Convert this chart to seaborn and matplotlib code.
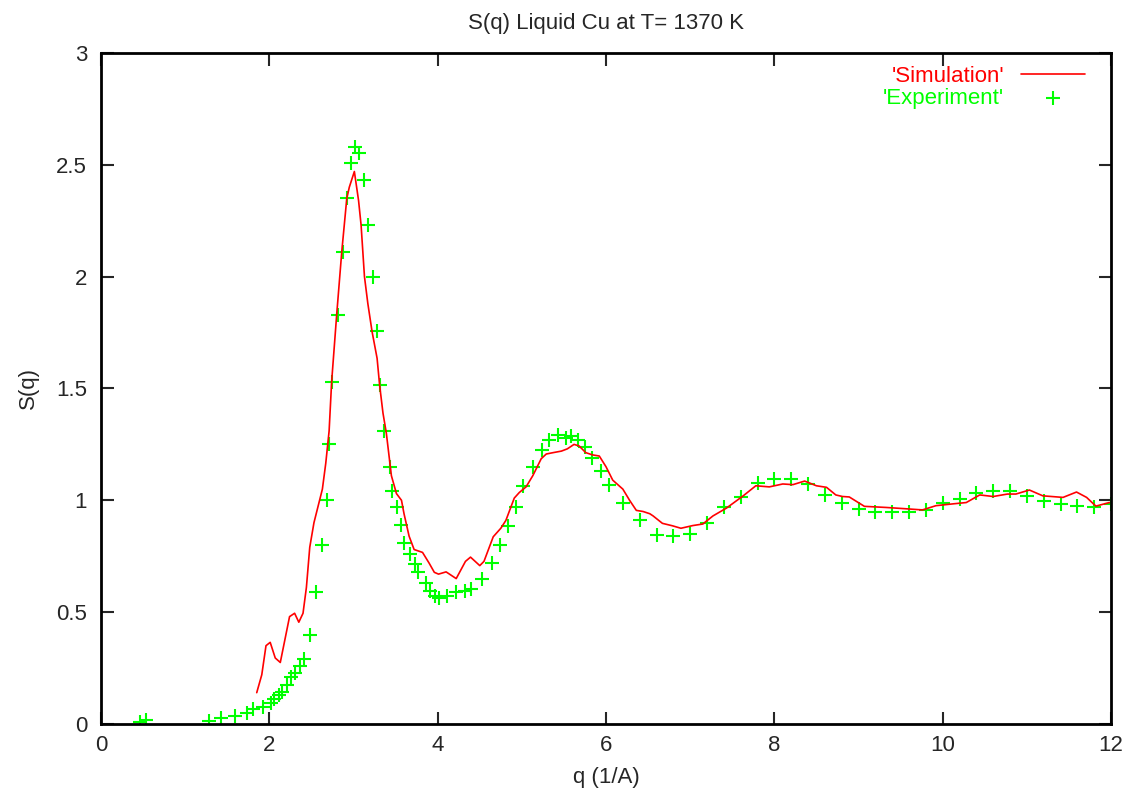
import matplotlib
matplotlib.use("Agg")
import matplotlib.pyplot as plt
import numpy as np
import pandas as pd
import seaborn as sns

# simulated S(q)
sim_q = [1.85, 1.91, 1.96, 2.01, 2.07, 2.13, 2.24, 2.30, 2.35, 2.40, 2.44, 2.48,
         2.53, 2.59, 2.63, 2.67, 2.71, 2.74, 2.80, 2.86, 2.92, 2.95, 3.01, 3.06,
         3.09, 3.13, 3.17, 3.22, 3.28, 3.31, 3.35, 3.39, 3.45, 3.51, 3.57, 3.60,
         3.66, 3.72, 3.82, 3.90, 3.96, 4.01, 4.10, 4.22, 4.33, 4.39, 4.50, 4.55,
         4.66, 4.75, 4.81, 4.91, 4.97, 5.05, 5.13, 5.23, 5.29, 5.37, 5.47, 5.54,
         5.62, 5.68, 5.76, 5.84, 5.92, 6.00, 6.08, 6.20, 6.28, 6.36, 6.44, 6.52,
         6.56, 6.67, 6.79, 6.89, 7.03, 7.15, 7.27, 7.43, 7.63, 7.78, 7.94, 8.10,
         8.22, 8.36, 8.50, 8.62, 8.73, 8.81, 8.89, 9.07, 9.33, 9.57, 9.76, 9.92,
         10.12, 10.28, 10.44, 10.60, 10.77, 10.87, 11.03, 11.19, 11.43, 11.59,
         11.71, 11.82, 11.98]
sim_s = [0.14, 0.22, 0.35, 0.365, 0.295, 0.275, 0.48, 0.495, 0.455, 0.495, 0.61, 0.79,
         0.90, 0.99, 1.05, 1.165, 1.31, 1.53, 1.83, 2.11, 2.35, 2.40, 2.47, 2.34,
         2.23, 2.00, 1.88, 1.755, 1.635, 1.515, 1.39, 1.30, 1.11, 1.03, 1.00, 0.94,
         0.84, 0.78, 0.767, 0.718, 0.678, 0.67, 0.68, 0.65, 0.727, 0.746, 0.708, 0.727,
         0.837, 0.875, 0.91, 1.01, 1.035, 1.06, 1.11, 1.186, 1.207, 1.213, 1.22, 1.23,
         1.25, 1.243, 1.213, 1.203, 1.198, 1.15, 1.09, 1.05, 1.00, 0.955, 0.95, 0.94,
         0.93, 0.897, 0.886, 0.875, 0.887, 0.894, 0.93, 0.965, 1.02, 1.065, 1.06, 1.073,
         1.07, 1.086, 1.065, 1.058, 1.024, 1.017, 1.015, 0.973, 0.968, 0.962, 0.957, 0.976,
         0.984, 0.99, 1.024, 1.017, 1.028, 1.028, 1.046, 1.02, 1.013, 1.037,
         1.013, 0.974, 0.99]

# experimental S(q)
exp_q = [0.46, 0.54, 1.28, 1.42, 1.59, 1.74, 1.80, 1.92, 2.02, 2.05, 2.11, 2.15,
         2.21, 2.26, 2.30, 2.37, 2.41, 2.48, 2.56, 2.62, 2.68, 2.71, 2.75, 2.82,
         2.87, 2.92, 2.97, 3.02, 3.07, 3.13, 3.17, 3.23, 3.28, 3.31, 3.36, 3.43,
         3.46, 3.52, 3.56, 3.60, 3.67, 3.73, 3.77, 3.86, 3.91, 3.97, 4.02, 4.11,
         4.22, 4.32, 4.39, 4.53, 4.64, 4.74, 4.84, 4.93, 5.01, 5.13, 5.24, 5.32,
         5.43, 5.53, 5.58, 5.67, 5.75, 5.83, 5.94, 6.03, 6.2, 6.4, 6.6, 6.8,
         7.0, 7.2, 7.4, 7.6, 7.8, 8.0, 8.2, 8.4, 8.6, 8.8, 9.0, 9.2, 9.4, 9.6,
         9.8, 10.0, 10.2, 10.4, 10.6, 10.8, 11.0, 11.2, 11.4, 11.6, 11.8, 12.0]
exp_s = [0.01, 0.02, 0.015, 0.027, 0.036, 0.05, 0.065, 0.075, 0.092, 0.11, 0.13, 0.145,
         0.175, 0.21, 0.23, 0.26, 0.29, 0.40, 0.59, 0.80, 1.00, 1.25, 1.53, 1.83,
         2.11, 2.35, 2.51, 2.58, 2.555, 2.43, 2.23, 2.00, 1.755, 1.515, 1.31, 1.15,
         1.04, 0.97, 0.89, 0.81, 0.76, 0.715, 0.68, 0.63, 0.596, 0.57, 0.565, 0.574,
         0.59, 0.596, 0.605, 0.647, 0.718, 0.80, 0.886, 0.97, 1.064, 1.15, 1.225, 1.27,
         1.29, 1.28, 1.287, 1.27, 1.24, 1.19, 1.13, 1.068, 0.987, 0.91, 0.845, 0.84,
         0.85, 0.897, 0.969, 1.016, 1.079, 1.097, 1.097, 1.073, 1.024, 0.99, 0.961, 0.949, 0.949, 0.949,
         0.957, 0.987, 1.004, 1.031, 1.042, 1.042, 1.02, 0.998, 0.983, 0.975, 0.972, 0.985]

sim = pd.DataFrame({"q": sim_q, "S": sim_s})
exp = pd.DataFrame({"q": exp_q, "S": exp_s})

sns.set_style("ticks")
plt.rcParams["font.family"] = ["Liberation Sans", "DejaVu Sans"]
FS = 16

fig = plt.figure(figsize=(11.3, 7.99), dpi=100)
ax = fig.add_axes([0.0894, 0.0939, 0.8938, 0.8398])

sns.lineplot(data=sim, x="q", y="S", ax=ax, color="#ff0000", lw=1.2,
             sort=False, estimator=None, label="'Simulation'")
sns.scatterplot(data=exp, x="q", y="S", ax=ax, color="#00ff00", marker="+",
                s=90, linewidth=1.5, label="'Experiment'")

ax.set_xlim(0, 12)
ax.set_ylim(0, 3)
ax.set_xticks(range(0, 13, 2))
ax.set_yticks([0, 0.5, 1, 1.5, 2, 2.5, 3])
ax.set_yticklabels(["0", "0.5", "1", "1.5", "2", "2.5", "3"])
ax.tick_params(direction="in", length=9, width=1.5, labelsize=FS,
               top=True, right=True)
ax.tick_params(axis="y", pad=10)
ax.tick_params(axis="x", pad=8)
for sp in ax.spines.values():
    sp.set_linewidth(2)
    sp.set_color("black")

ax.set_xlabel("q (1/A)", fontsize=FS, labelpad=8)
ax.set_ylabel("S(q)", fontsize=FS, labelpad=12)
ax.set_title("S(q) Liquid Cu at T= 1370 K", fontsize=FS, pad=17)

leg = ax.legend(loc="upper right", bbox_to_anchor=(0.974, 0.981), frameon=False,
                markerfirst=False, fontsize=FS, handlelength=2.85,
                handletextpad=0.77, labelspacing=0.05,
                borderpad=0, borderaxespad=0)
for txt, c in zip(leg.get_texts(), ["#ff0000", "#00ff00"]):
    txt.set_color(c)

fig.savefig("out.png", dpi=100)
